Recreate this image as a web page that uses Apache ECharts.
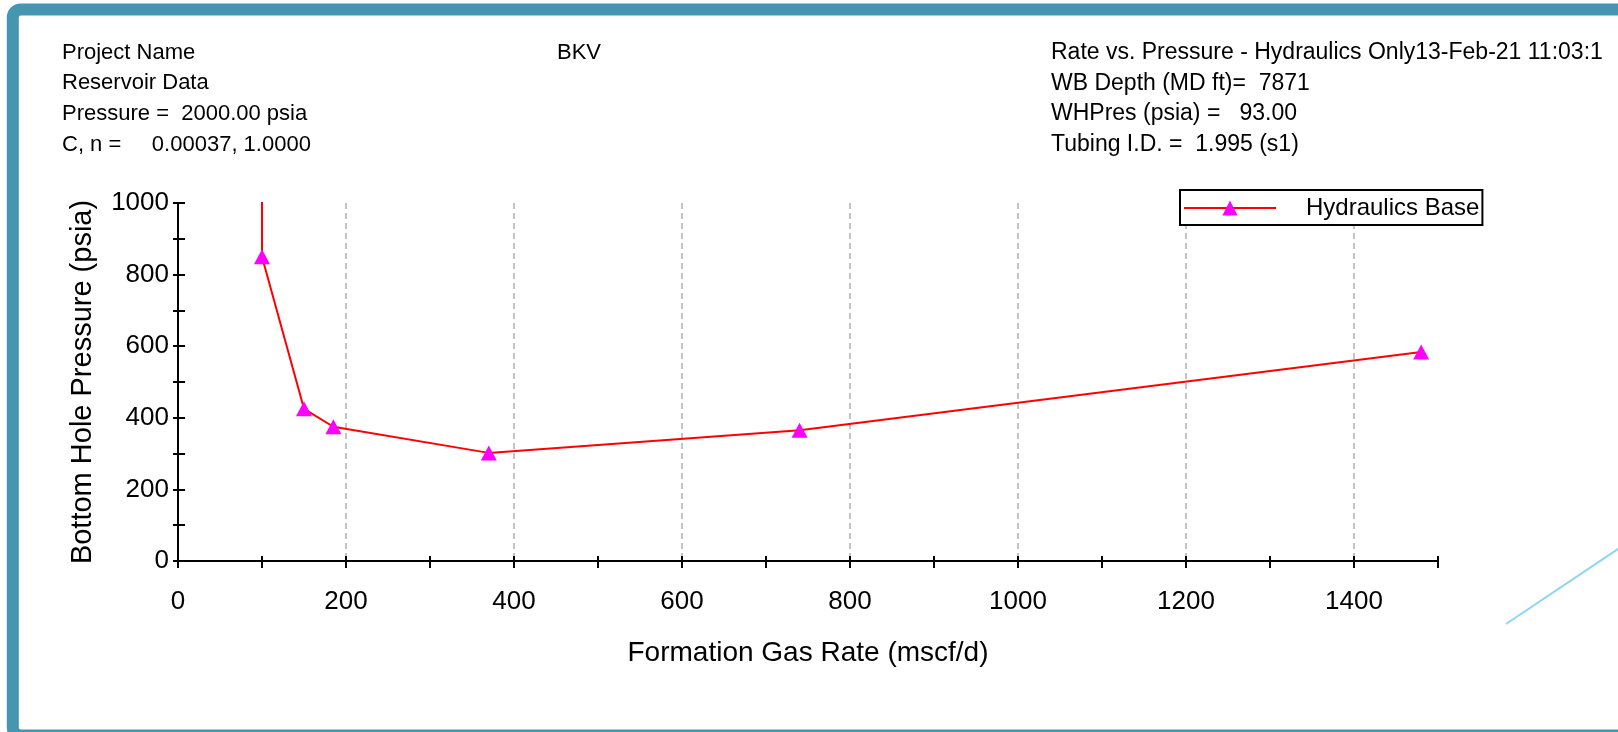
<!DOCTYPE html>
<html>
<head>
<meta charset="utf-8">
<script src="https://cdn.jsdelivr.net/npm/echarts@6/dist/echarts.min.js"></script>
<style>
  html, body { margin: 0; padding: 0; background: #ffffff; }
  #chart { width: 1618px; height: 732px; }
</style>
</head>
<body>
<div id="chart"></div>
<script>
// Rate vs. pressure points (hydraulics base curve)
const seriesName = 'Hydraulics Base';
const gasRates = [100, 100, 150, 185, 370, 740, 1480];      // mscf/d
const bhPressures = [1250, 850, 425, 375, 302, 365, 584];    // psia
const markedPoints = [false, true, true, true, true, true, true];

// Axis ticks and labels
const xTickLabels = ['0', '200', '400', '600', '800', '1000', '1200', '1400'];
const yTickLabels = ['0', '200', '400', '600', '800', '1000'];
const xTitle = 'Formation Gas Rate (mscf/d)';
const yTitle = 'Bottom Hole Pressure (psia)';

// Header block
const headerLeft = ['Project Name', 'Reservoir Data', 'Pressure =  2000.00 psia', 'C, n =     0.00037, 1.0000'];
const headerMiddle = ['BKV'];
const headerRight = ['Rate vs. Pressure - Hydraulics Only13-Feb-21 11:03:1', 'WB Depth (MD ft)=  7871', 'WHPres (psia) =   93.00', 'Tubing I.D. =  1.995 (s1)'];

const FONT = '"Liberation Sans", Arial, sans-serif';
const chart = echarts.init(document.getElementById('chart'), null, { renderer: 'canvas' });

const lineData = gasRates.map((x, i) => markedPoints[i]
  ? { value: [x, bhPressures[i]] }
  : { value: [x, bhPressures[i]], symbol: 'none' });

function headerTexts(lines, left, size) {
  return lines.map((t, i) => ({
    type: 'text',
    left: left,
    top: 42 + i * 30.7 - (size - 21) * 0.5,
    z: 10,
    style: { text: t, fontSize: size, fontFamily: FONT, fill: '#000' }
  }));
}

const axisColor = '#000';
const option = {
  backgroundColor: '#ffffff',
  animation: false,
  grid: { left: 178, top: 203, width: 1260, height: 358, containLabel: false },
  legend: {
    left: 1180, top: 190,
    itemWidth: 92, itemHeight: 19, itemGap: 0,
    padding: [6, 3, 5, 3],
    borderColor: '#000', borderWidth: 2, borderRadius: 0,
    backgroundColor: '#fff',
    textStyle: { fontSize: 24, fontFamily: FONT, color: '#000', padding: [0, 0, 0, 25] },
    data: [seriesName]
  },
  xAxis: [
    {
      type: 'value', min: 0, max: 1500, interval: 100, position: 'bottom',
      axisLine: { show: true, onZero: false, lineStyle: { color: axisColor, width: 2 } },
      axisTick: { show: true, inside: false, length: 7, lineStyle: { color: axisColor, width: 2 } },
      axisLabel: {
        fontSize: 26, fontFamily: FONT, color: '#000', margin: 28,
        formatter: v => xTickLabels.includes(String(v)) ? String(v) : ''
      },
      splitLine: { show: false },
      name: xTitle, nameLocation: 'middle', nameGap: 78,
      nameTextStyle: { fontSize: 28, fontFamily: FONT, color: '#000' }
    },
    {
      type: 'value', min: 0, max: 1500, interval: 100, position: 'bottom',
      axisLine: { show: false, onZero: false },
      axisTick: { show: true, inside: true, length: 5, lineStyle: { color: axisColor, width: 2 } },
      axisLabel: { show: false },
      splitLine: { show: false }
    },
    {
      type: 'value', min: 0, max: 1500, interval: 200, position: 'bottom',
      axisLine: { show: false, onZero: false },
      axisTick: { show: false },
      axisLabel: { show: false },
      splitLine: {
        show: true, showMinLine: false, showMaxLine: false,
        lineStyle: { color: '#c4c4c4', width: 2, type: [6, 4] }
      }
    }
  ],
  yAxis: [
    {
      type: 'value', min: 0, max: 1000, interval: 100, position: 'left',
      axisLine: { show: true, onZero: false, lineStyle: { color: axisColor, width: 2 } },
      axisTick: { show: true, inside: false, length: 5, lineStyle: { color: axisColor, width: 2 } },
      axisLabel: {
        fontSize: 26, fontFamily: FONT, color: '#000', margin: 9,
        formatter: v => yTickLabels.includes(String(v)) ? String(v) : ''
      },
      splitLine: { show: false },
      name: yTitle, nameLocation: 'middle', nameGap: 81, nameRotate: 90,
      nameTextStyle: { fontSize: 29, fontFamily: FONT, color: '#000' }
    },
    {
      type: 'value', min: 0, max: 1000, interval: 100, position: 'left',
      axisLine: { show: false, onZero: false },
      axisTick: { show: true, inside: true, length: 7, lineStyle: { color: axisColor, width: 2 } },
      axisLabel: { show: false },
      splitLine: { show: false }
    }
  ],
  series: [
    {
      name: seriesName,
      type: 'line',
      xAxisIndex: 0, yAxisIndex: 0,
      data: lineData,
      clip: true,
      symbol: 'triangle',
      symbolSize: [16, 15],
      showAllSymbol: true,
      lineStyle: { color: '#ff0000', width: 2 },
      itemStyle: { color: '#ff00ff', borderWidth: 0 },
      z: 5
    }
  ],
  graphic: [
    // outer frame
    {
      type: 'rect', z: 20, silent: true,
      shape: { x: 12.8, y: 9.5, width: 1700, height: 726, r: 8 },
      style: { fill: 'none', stroke: '#4796b1', lineWidth: 12 }
    },
    // light blue stroke at the lower right
    {
      type: 'line', z: 20, silent: true,
      shape: { x1: 1506, y1: 624, x2: 1630, y2: 541 },
      style: { stroke: '#8ed5ee', lineWidth: 2 }
    },
    ...headerTexts(headerLeft, 62, 22),
    ...headerTexts(headerMiddle, 557, 22),
    ...headerTexts(headerRight, 1051, 23)
  ]
};

chart.setOption(option);
</script>
</body>
</html>
